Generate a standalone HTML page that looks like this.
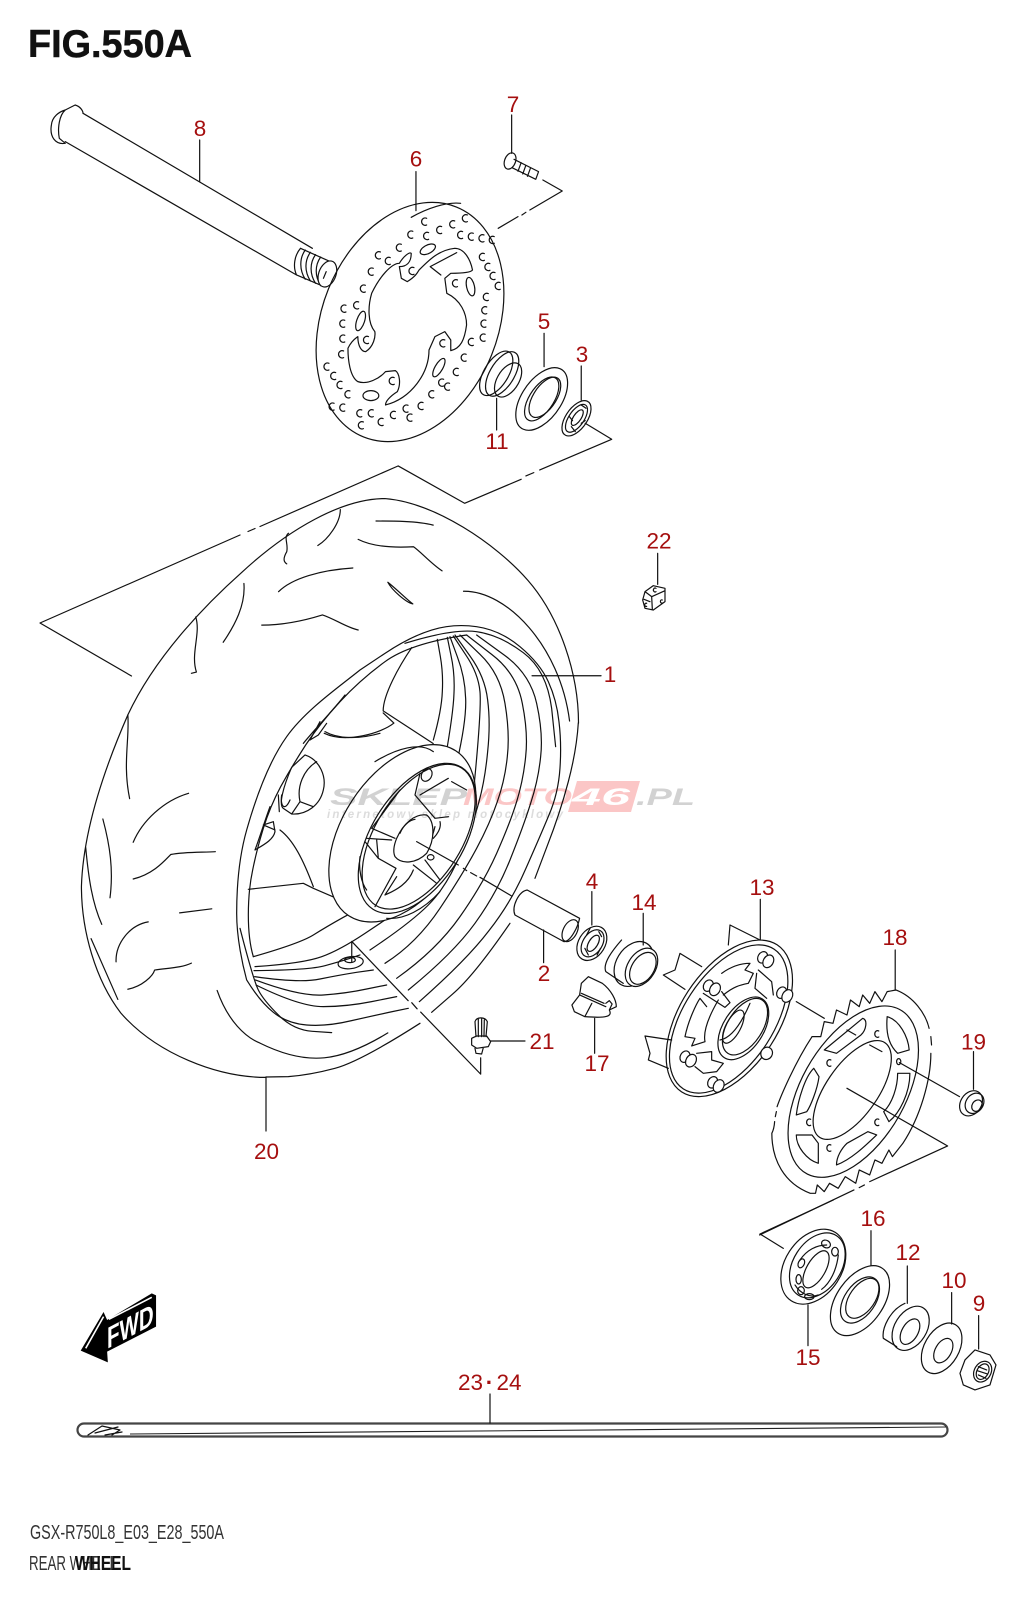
<!DOCTYPE html>
<html><head><meta charset="utf-8"><style>
html,body{margin:0;padding:0;background:#fff;width:1028px;height:1600px;overflow:hidden}
svg{display:block}
path,ellipse,line,rect,polygon{vector-effect:non-scaling-stroke}
.l{fill:none;stroke:#111;stroke-width:1.2;stroke-linecap:round;stroke-linejoin:round}
.l ellipse.w,.l path.w{fill:#fff}
.n{font:22.5px "Liberation Sans",sans-serif;fill:#a50f0f;text-anchor:middle}
</style></head><body>
<svg width="1028" height="1600" viewBox="0 0 1028 1600" xmlns="http://www.w3.org/2000/svg">
<rect width="1028" height="1600" fill="#fff"/>
<text x="28" y="57" font-family="Liberation Sans" font-weight="700" font-size="39" textLength="164" lengthAdjust="spacingAndGlyphs" fill="#111" stroke="#111" stroke-width=".5">FIG.550A</text>

<g class="l">
<path d="M398 466L260 526.5M255 528.5L248 531.5M240 535L40 623L131.5 676"/>
<!-- tyre -->
<g transform="translate(60,470) scale(.3571,.4082)">
<path d="M577 1488C440 1488 270 1430 170 1330C100 1250 60 1130 60 1020C65 880 130 720 190 600C270 450 420 320 510 250C640 145 790 70 910 70C1050 80 1220 180 1310 270C1400 360 1452 500 1452 620"/>
<path d="M785 97C785 130 750 170 722 185M885 125C930 125 1000 125 1045 135M835 170C880 190 950 190 990 188C1010 200 1040 230 1070 247M640 155C625 165 640 180 635 200C625 215 625 225 635 230M612 298C650 265 730 245 820 240M918 275C940 290 975 320 988 328C970 325 930 295 918 275ZM515 278C520 330 490 380 457 422M565 380C620 380 680 370 735 355C770 365 800 385 835 392M380 360C395 400 365 450 382 495L368 498M190 600C195 660 175 720 195 805M205 912C230 860 290 810 360 792M120 855C140 920 150 980 140 1048M205 1002C260 990 290 960 310 942C350 935 400 937 435 935M335 1085L425 1075M157 1205C155 1160 195 1115 247 1107M190 1272C230 1265 260 1240 265 1225C300 1220 340 1220 368 1208M72 925C80 1000 90 1060 117 1113M87 1148L162 1297"/>
<path d="M440 1275C470 1350 520 1390 560 1404C620 1430 680 1445 740 1440C800 1435 860 1410 918 1379M1130 297C1250 295 1400 430 1427 615"/>
<!-- upper spoke -->
<path d="M985 435C950 480 905 550 905 590L1045 670M905 595L935 620C900 645 800 670 740 645"/>
<path d="M817 1155L817 1205M817 1155L975 1300M985 1305L1000 1320M1010 1328L1178 1480L1178 1440"/>
<path d="M1322 504L1515 504"/>
</g>
<path d="M266 1077L266 1131"/>

<!-- wheel rim, barrel, lower tyre -->
<g transform="translate(260,780) scale(.3333)">
<path d="M955 -171Q950 -90 925 5Q900 100 862 197L825 295M750 430Q640 590 577 643L515 697M480 730Q300 845 225 865Q150 885 85 890L18 891"/>
<path d="M-40 600Q0 665 40 697Q80 730 140 735Q200 740 275 722Q350 705 397 695L445 685M478 665Q620 540 687 452Q755 365 797 267Q840 170 867 105Q895 40 900 -35Q905 -110 897 -175Q890 -240 865 -295Q840 -350 780 -400Q720 -450 650 -460Q580 -470 515 -450Q450 -430 375 -380L300 -330C238 -280 137 -210 80 -130C23 -50 -15 62 -40 150C-65 238 -70 325 -70 400C-70 475 -52 556 -40 600"/>
<path d="M-60 445Q-20 600 -5 630Q10 660 55 705Q100 750 157 754L215 758M435 -410Q580 -455 650 -445Q720 -435 790 -382Q860 -330 875 -215L887 -100"/>
<path d="M620 -435Q450 -410 375 -355Q300 -300 240 -235Q180 -170 137 -105Q95 -40 62 20Q30 80 10 145Q-10 210 -22 270Q-35 330 -35 405Q-35 480 -20 530"/>
<path d="M-12 615Q120 680 190 680Q260 680 335 665L410 650M445 630Q580 520 645 430Q710 340 750 240Q790 140 812 70Q835 0 842 -70Q850 -140 830 -230Q810 -320 730 -377L650 -435"/>
<path d="M-14 600Q120 650 190 645Q260 640 320 627L380 615M410 595Q530 510 600 410Q670 310 710 220Q750 130 770 65Q790 0 797 -70Q805 -140 787 -230Q770 -320 695 -377L620 -435"/>
<path d="M-16 590Q120 610 180 597Q240 585 290 577L340 570M375 550Q470 490 540 385Q610 280 650 205Q690 130 712 65Q735 0 742 -70Q750 -140 735 -230Q720 -320 660 -377L600 -435"/>
<path d="M-18 572Q150 570 195 557Q240 545 270 535L300 525M330 510Q450 430 505 375Q560 320 600 225Q640 130 657 65Q675 0 683 -85Q692 -170 683 -240Q675 -310 630 -372L585 -435"/>
<path d="M-15 560Q130 550 185 530Q240 510 315 460L390 410"/>
<path d="M640 40Q665 -210 660 -265Q655 -320 617 -376L580 -432M590 -50Q620 -180 617 -245Q615 -310 592 -370L570 -430M555 -60Q580 -200 582 -260Q585 -320 573 -374L562 -428M520 -120Q545 -210 547 -265Q550 -320 541 -371L532 -422"/>
<path d="M-20 530Q120 490 160 465Q200 440 250 412L300 385"/>
<ellipse cx="272" cy="548" rx="38" ry="18" transform="rotate(-8 272 548)"/>
<ellipse cx="270" cy="540" rx="16" ry="8"/>
<!-- valve 21 -->
<path d="M648 770L645 725C650 710 675 710 682 725L678 770M655 718L655 770M665 716L665 770M673 720L672 770M635 775L650 768L680 768L692 785L685 800L650 805L635 795ZM645 805L648 820L665 822L670 803M692 783L795 783"/>
</g>
<!-- spoke and hole -->
<g transform="translate(220,680) scale(.3333)">
<path d="M215 262L255 225C300 240 320 290 310 330C300 375 260 405 215 402L190 385C175 375 190 320 215 262M290 245C250 270 230 320 240 365L215 402M240 365L280 380"/>
<path d="M180 450C220 480 250 540 280 620M85 628L250 610L280 625L415 683M105 510C130 495 160 480 165 455L160 425L130 435L165 450M150 380C135 420 120 470 105 510M175 345L178 395M185 345C180 380 195 395 210 360"/>
<path d="M315 155C350 175 410 180 480 160M300 125L270 180L295 165L320 130M375 45C340 90 300 130 250 190"/>
</g>
<!-- hub -->
<g transform="translate(320,740) scale(.3333)">
<ellipse class="w" cx="247" cy="280" rx="180" ry="295" transform="rotate(33 247 280)"/>
<path d="M165 65C230 25 300 5 340 35" />
<ellipse class="w" cx="292" cy="295" rx="138" ry="251" transform="rotate(32 292 295)"/>
<ellipse cx="296" cy="290" rx="130" ry="243" transform="rotate(32 296 290)"/>
<path d="M300 100L285 165L345 235M385 115L300 165M240 150L155 265L225 295M140 295L215 300M135 305L175 355L228 385M175 355L170 300M228 385L165 500M120 350C115 390 125 430 140 450M280 375L350 430M315 360L360 420M395 125L440 150M345 235L385 230M230 410L195 465C230 450 265 430 280 390M345 260C340 280 335 295 330 305M360 245C365 265 350 285 340 295M200 535C250 540 310 510 360 455"/>
<ellipse cx="320" cy="105" rx="15" ry="20" transform="rotate(30 320 105)"/>
<ellipse cx="332" cy="352" rx="10" ry="8"/>
<path class="w" d="M230 295C250 250 285 220 320 225C345 245 345 300 320 340C290 370 245 375 225 350C218 335 222 315 230 295Z"/>
<path d="M240 280C250 255 270 240 285 238"/>
<path d="M290 305L415 375M430 385L440 392M452 398L470 408M480 412L575 468"/>
</g>
</g>

<!-- top parts -->
<g class="l" transform="scale(.3954,.3333)">
<path d="M165 330L190 315C205 320 210 335 210 340M165 330C150 345 145 385 150 415L165 430C140 435 125 410 130 375C132 350 150 335 165 330Z"/>
<path d="M210 340L790 745M165 425L750 825M760 745C745 765 740 800 750 825M760 745L845 790M750 825L820 860"/>
<path d="M772 750C757 775 757 810 772 838M785 757C770 782 770 815 785 843M798 764C783 789 783 822 798 850M811 771C796 796 796 829 811 857"/>
<ellipse class="w" cx="828" cy="822" rx="22" ry="40" transform="rotate(15 828 822)" style="fill:#fff"/>
<path d="M825 815L818 835"/>
<path d="M505 420L505 545M1052 515L1052 632M1294 345L1294 460M1373 540L1422 573L1340 630M1330 637L1320 645M1310 650L1260 685"/>
<path d="M1040 652C1080 625 1130 605 1165 610"/>
<path d="M1155 758L1088 800L1115 825M1060 810C1085 780 1110 750 1150 745C1175 745 1190 780 1195 810C1190 820 1150 820 1140 820L1125 835L1130 880C1165 900 1180 940 1180 975C1175 1020 1165 1045 1140 1052L1140 1020L1125 995L1100 1010L1085 1050C1085 1120 1040 1195 975 1215C975 1205 985 1190 1005 1175C1015 1150 1010 1120 1000 1112L975 1115C960 1135 930 1155 905 1145C885 1130 880 1080 880 1045C890 1020 900 1015 905 1010C905 1040 915 1055 925 1055C945 1040 950 1010 948 995C930 970 930 920 940 880C960 830 990 790 1010 790C1020 770 1035 755 1040 760C1040 785 1030 800 1010 800L1015 835L1030 845C1050 830 1055 820 1060 810"/>
<ellipse cx="1082" cy="748" rx="22" ry="12" transform="rotate(-35 1082 748)"/>
<ellipse cx="1190" cy="860" rx="10" ry="28" transform="rotate(-10 1190 860)"/>
<ellipse cx="912" cy="963" rx="10" ry="30" transform="rotate(15 912 963)"/>
<ellipse cx="1110" cy="1103" rx="10" ry="30" transform="rotate(25 1110 1103)"/>
<ellipse cx="938" cy="1187" rx="20" ry="15"/>
<path d="M1079 655a9 11 0 1 0 0 20M1182 645a9 11 0 1 0 0 20M1150 663a9 11 0 1 0 0 20M1117 680a9 11 0 1 0 0 20M1084 698a9 11 0 1 0 0 20M1044 694a9 11 0 1 0 0 20M1170 695a9 11 0 1 0 0 20M1197 700a9 11 0 1 0 0 20M1224 705a9 11 0 1 0 0 20M1250 710a9 11 0 1 0 0 20M1015 733a9 11 0 1 0 0 20M1225 761a9 11 0 1 0 0 20M1239 791a9 11 0 1 0 0 20M1252 818a9 11 0 1 0 0 20M1265 848a9 11 0 1 0 0 20M962 756a9 11 0 1 0 0 20M987 773a9 11 0 1 0 0 20M944 805a9 11 0 1 0 0 20M924 856a9 11 0 1 0 0 20M1235 881a9 11 0 1 0 0 20M1231 921a9 11 0 1 0 0 20M1229 961a9 11 0 1 0 0 20M1227 1003a9 11 0 1 0 0 20M875 916a9 11 0 1 0 0 20M907 906a9 11 0 1 0 0 20M872 961a9 11 0 1 0 0 20M872 1006a9 11 0 1 0 0 20M869 1053a9 11 0 1 0 0 20M1197 1016a9 11 0 1 0 0 20M1179 1063a9 11 0 1 0 0 20M1159 1106a9 11 0 1 0 0 20M1137 1150a9 11 0 1 0 0 20M1122 1138a9 11 0 1 0 0 20M1097 1173a9 11 0 1 0 0 20M1070 1208a9 11 0 1 0 0 20M1032 1216a9 11 0 1 0 0 20M1042 1243a9 11 0 1 0 0 20M1000 1235a9 11 0 1 0 0 20M969 1256a9 11 0 1 0 0 20M944 1230a9 11 0 1 0 0 20M915 1230a9 11 0 1 0 0 20M919 1266a9 11 0 1 0 0 20M872 1213a9 11 0 1 0 0 20M845 1210a9 11 0 1 0 0 20M832 1090a9 11 0 1 0 0 20M849 1118a9 11 0 1 0 0 20M865 1145a9 11 0 1 0 0 20M885 1173a9 11 0 1 0 0 20M1047 803a9 11 0 1 0 0 20M1157 840a9 11 0 1 0 0 20M932 1010a9 11 0 1 0 0 20M1125 1020a9 11 0 1 0 0 20M997 1133a9 11 0 1 0 0 20"/>
<!-- bolt 7 -->
<ellipse cx="1290" cy="483" rx="14" ry="25" transform="rotate(15 1290 483)"/>
<path d="M1300 478L1362 515L1355 538L1295 503M1318 488L1310 514M1330 496L1322 522M1342 503L1334 529"/>
<!-- 11 -->
<ellipse cx="1255" cy="1120" rx="32" ry="72" transform="rotate(25 1255 1120)"/>
<ellipse cx="1270" cy="1122" rx="32" ry="72" transform="rotate(25 1270 1122)"/>
<ellipse cx="1285" cy="1140" rx="28" ry="55" transform="rotate(25 1285 1140)"/>
<path d="M1256 1195L1256 1290"/>
<!-- 5 -->
<ellipse cx="1370" cy="1197" rx="52" ry="102" transform="rotate(27 1370 1197)"/>
<ellipse cx="1370" cy="1197" rx="32" ry="72" transform="rotate(27 1370 1197)"/>
<ellipse cx="1378" cy="1192" rx="30" ry="66" transform="rotate(27 1378 1192)"/>
<path d="M1376 1000L1376 1100"/>
<!-- 3 -->
<ellipse cx="1458" cy="1255" rx="28" ry="58" transform="rotate(28 1458 1255)"/>
<ellipse cx="1458" cy="1255" rx="20" ry="46" transform="rotate(28 1458 1255)"/>
<ellipse cx="1460" cy="1253" rx="10" ry="26" transform="rotate(28 1460 1253)"/>
<path d="M1445 1280L1455 1295M1470 1215L1482 1225M1440 1250L1448 1262M1470 1270L1480 1262"/>
<path d="M1470 1098L1470 1200M1480 1270L1547 1318L1365 1410M1350 1418L1330 1428M1318 1438L1175 1510L1007 1398"/>
</g>
<ellipse class="l" cx="410" cy="322" rx="88" ry="124" transform="rotate(22 410 322)"/>

<!-- valve 22 -->
<g class="l" transform="translate(620,520) scale(.3333)">
<path d="M113 100L113 193M75 215L100 197L135 205L135 245L100 270L75 265L68 240L75 215ZM75 215L95 230L135 212M95 230L97 268M72 238L90 245"/>
<path d="M108 205a5 6 0 1 0 0 10M80 250a4 5 0 1 0 0 9M127 240a4 5 0 1 0 0 9"/>
</g>

<!-- lower parts -->
<g class="l" transform="translate(480,840) scale(.3495,.3333)">
<path class="w" d="M135 150L285 235C280 260 260 305 240 305L100 225C90 200 110 155 135 150Z" style="fill:#fff"/>
<ellipse cx="258" cy="272" rx="20" ry="35" transform="rotate(25 258 272)"/>
<path d="M182 270L182 368M320 155L320 255M467 220L467 315M328 535L328 640M802 178L802 298"/>
<ellipse cx="320" cy="310" rx="38" ry="55" transform="rotate(30 320 310)"/>
<ellipse cx="322" cy="310" rx="28" ry="44" transform="rotate(30 322 310)"/>
<ellipse cx="324" cy="310" rx="13" ry="27" transform="rotate(30 324 310)"/>
<path d="M305 285L315 265M340 275L348 290M300 325L310 345M335 345L345 325"/>
<path d="M405 300C380 330 350 370 360 395L410 430"/>
<ellipse cx="440" cy="372" rx="50" ry="72" transform="rotate(30 440 372)"/>
<ellipse cx="462" cy="382" rx="40" ry="62" transform="rotate(30 462 382)" style="fill:#fff"/>
<ellipse cx="466" cy="385" rx="32" ry="52" transform="rotate(30 466 385)"/>
<path d="M310 410L350 430C375 450 390 480 390 500L370 510C380 530 360 535 300 530L270 515L263 495L285 465L290 430ZM285 465L360 500M300 530L320 490M290 460L355 490M360 490L370 482L378 492L370 510"/>
<path d="M905 485L985 535"/>
<!-- sprocket -->
<path d="M1190 450L1165 455L1150 485L1130 455L1115 490L1095 465L1085 500L1060 480L1050 525L1020 510L1010 550L985 545L975 590L950 590M950 590C900 670 860 770 850 800M848 815L845 830M843 845C842 860 840 870 835 880C835 960 870 1030 945 1060L960 1060L965 1035L985 1055L1000 1030L1025 1045L1045 1010L1075 1030L1085 990L1115 1005L1130 960L1150 970L1170 930L1180 950L1210 910C1260 830 1290 720 1290 640M1292 615L1290 590M1285 565C1275 520 1240 470 1190 450"/>
<ellipse cx="1068" cy="755" rx="150" ry="280" transform="rotate(28 1068 755)"/>
<ellipse cx="1065" cy="750" rx="75" ry="170" transform="rotate(33 1065 750)"/>
<path d="M985 630L1095 535C1110 540 1105 570 1090 585L1020 640ZM1165 530C1200 540 1225 590 1228 630L1195 640C1175 620 1160 590 1165 530ZM1195 700L1230 700C1230 760 1200 820 1170 845L1155 815C1180 790 1195 740 1195 700ZM1135 885C1100 920 1060 960 1020 975C1020 950 1035 925 1050 910L1110 875ZM905 885L950 885L968 910L968 970C935 960 905 920 905 885ZM905 825C910 780 930 710 955 685L970 710C965 750 945 800 935 815Z"/>
<path d="M1141 573a8 10 0 1 0 0 18M1004 660a8 10 0 1 0 0 18M946 838a8 10 0 1 0 0 18M1141 838a8 10 0 1 0 0 18M1004 915a8 10 0 1 0 0 18"/>
<ellipse cx="1198" cy="665" rx="6" ry="9"/>
<path d="M1050 570L1075 585M1115 615L1150 635M1050 745L1338 918L1115 1025M1100 1035L1085 1043M1070 1050L800 1185M1200 668L1372 770M1412 635L1412 748M1188 330L1188 450"/>
<ellipse cx="1405" cy="790" rx="30" ry="40" transform="rotate(30 1405 790)"/>
<ellipse cx="1415" cy="790" rx="25" ry="32" transform="rotate(30 1415 790)"/>
<ellipse cx="1422" cy="797" rx="14" ry="18" transform="rotate(30 1422 797)"/>
</g>

<!-- hub 13 -->
<g class="l" transform="translate(640,920) scale(.3333)">
<path d="M265 75L270 15L360 60M185 140L120 100L105 150L70 165L135 208M95 360L15 348L30 400L25 420L85 445"/>
<ellipse cx="268" cy="295" rx="148" ry="263" transform="rotate(33 268 295)"/>
<ellipse cx="266" cy="297" rx="136" ry="250" transform="rotate(33 266 297)"/>
<ellipse cx="310" cy="325" rx="60" ry="105" transform="rotate(33 310 325)"/>
<ellipse cx="315" cy="320" rx="52" ry="95" transform="rotate(33 315 320)"/>
<ellipse cx="280" cy="320" rx="22" ry="55" transform="rotate(28 280 320)"/>
<path d="M245 160C280 135 310 130 330 130L315 150L340 160L325 190C300 195 280 200 250 225M135 350C145 300 170 250 180 235L200 260M135 350L165 355L155 378L195 365C190 340 200 300 235 240M170 400L215 395L215 420L250 430L230 455L190 460L165 440M245 215L270 248L255 262L190 220M350 160L345 205L380 235M355 150L395 185L400 225M240 360C270 355 300 320 330 250"/>
<g style="fill:#fff">
<ellipse cx="368" cy="112" rx="14" ry="18" transform="rotate(30 368 112)"/><ellipse cx="385" cy="124" rx="15" ry="20" transform="rotate(30 385 124)"/>
<ellipse cx="425" cy="218" rx="14" ry="18" transform="rotate(30 425 218)"/><ellipse cx="442" cy="228" rx="15" ry="20" transform="rotate(30 442 228)"/>
<ellipse cx="380" cy="400" rx="17" ry="19" transform="rotate(30 380 400)"/>
<ellipse cx="205" cy="197" rx="14" ry="18" transform="rotate(30 205 197)"/><ellipse cx="225" cy="208" rx="15" ry="20" transform="rotate(30 225 208)"/>
<ellipse cx="135" cy="410" rx="14" ry="18" transform="rotate(30 135 410)"/><ellipse cx="153" cy="422" rx="15" ry="20" transform="rotate(30 153 422)"/>
<ellipse cx="218" cy="487" rx="14" ry="18" transform="rotate(30 218 487)"/><ellipse cx="236" cy="498" rx="15" ry="20" transform="rotate(30 236 498)"/>
</g>
</g>

<g class="l" transform="translate(700,1200) scale(.3333)">
<path d="M180 102L250 145M180 102L400 0"/>
<ellipse cx="340" cy="200" rx="85" ry="122" transform="rotate(33 340 200)"/>
<ellipse cx="352" cy="196" rx="72" ry="106" transform="rotate(33 352 196)"/>
<ellipse cx="348" cy="208" rx="28" ry="62" transform="rotate(30 348 208)"/>
<path d="M300 180C320 150 350 135 380 135M285 255C300 280 330 295 355 285M415 165C410 210 390 250 365 268"/>
<ellipse cx="378" cy="132" rx="14" ry="11" transform="rotate(30 378 132)"/>
<ellipse cx="405" cy="155" rx="10" ry="13"/>
<ellipse cx="304" cy="190" rx="9" ry="14" transform="rotate(25 304 190)"/>
<ellipse cx="296" cy="238" rx="8" ry="14"/>
<ellipse cx="303" cy="272" rx="10" ry="12"/>
<ellipse cx="328" cy="290" rx="14" ry="9"/>
<path d="M324 315L324 437M513 92L513 195M622 198L622 310M755 278L755 372M836 347L836 447"/>
<ellipse cx="480" cy="302" rx="70" ry="118" transform="rotate(35 480 302)"/>
<ellipse cx="480" cy="300" rx="46" ry="78" transform="rotate(35 480 300)"/>
<ellipse cx="487" cy="295" rx="38" ry="68" transform="rotate(35 487 295)"/>
<path d="M615 310C570 330 545 385 550 415L590 440"/>
<ellipse cx="632" cy="385" rx="48" ry="72" transform="rotate(32 632 385)"/>
<ellipse cx="630" cy="395" rx="24" ry="42" transform="rotate(30 630 395)"/>
<ellipse cx="725" cy="445" rx="52" ry="82" transform="rotate(30 725 445)"/>
<ellipse cx="730" cy="452" rx="24" ry="40" transform="rotate(30 730 452)"/>
<path d="M825 450L870 465L888 495L870 555L825 570L790 555L780 520L795 480Z"/>
<ellipse cx="848" cy="515" rx="25" ry="33" transform="rotate(30 848 515)"/>
<ellipse cx="848" cy="515" rx="17" ry="25" transform="rotate(30 848 515)"/>
<path d="M835 500L860 510M832 512L862 522M835 525L858 535"/>
</g>

<!-- FWD -->
<g transform="translate(0,1280) scale(.3571,.3333)">
<polygon points="425,40 437,46 437,140 300,215 302,247 226,212 290,96 300,120" fill="#000"/>
<path d="M290 110L240 205M305 118L425 52" fill="none" stroke="#fff" stroke-width="1.6"/>
</g>
<text transform="matrix(.88,-.47,0,1,107,1349)" font-family="Liberation Sans" font-weight="700" font-size="30" fill="#fff" textLength="53" lengthAdjust="spacingAndGlyphs">FWD</text>

<!-- tube -->
<rect x="77.5" y="1423.500" width="870" height="13" rx="6.5" fill="none" stroke="#444" stroke-width="2.2"/>
<path d="M130 1434C300 1433 500 1431 946 1427" fill="none" stroke="#222" stroke-width="1.1"/>
<path d="M490 1394L490 1423" class="l"/>
<path d="M88 1435L102 1426L120 1430L112 1435M95 1433L118 1427M105 1435L122 1432" class="l"/>

<!-- labels -->
<g class="n">
<text x="200" y="136">8</text><text x="416" y="166.500">6</text><text x="513" y="112">7</text>
<text x="544" y="329">5</text><text x="582" y="362">3</text><text x="497" y="449">11</text>
<text x="659" y="548.500">22</text><text x="610" y="682">1</text><text x="592" y="889">4</text>
<text x="644" y="910">14</text><text x="762" y="895">13</text><text x="895" y="945">18</text>
<text x="973.500" y="1049.500">19</text><text x="544" y="981">2</text><text x="542" y="1049">21</text>
<text x="597" y="1071">17</text><text x="266.500" y="1159">20</text><text x="873" y="1226">16</text>
<text x="908" y="1260">12</text><text x="954" y="1288">10</text><text x="979" y="1311">9</text>
<text x="808" y="1365">15</text><text x="470.500" y="1390">23</text><text x="509" y="1390">24</text>
<text x="489.500" y="1390" font-weight="700">·</text>
</g>

<!-- watermark -->
<g style="mix-blend-mode:multiply">
<polygon points="577,781 640,781 631,812 568,812" fill="#fbc6c6"/>
<g font-family="Liberation Sans" font-weight="700" font-style="italic" font-size="24">
<text x="330" y="805" textLength="137" lengthAdjust="spacingAndGlyphs" fill="#d2d2d2">SKLEP</text>
<text x="463" y="805" textLength="109" lengthAdjust="spacingAndGlyphs" fill="#fbc6c6">MOTO</text>
<text x="636" y="805" textLength="59" lengthAdjust="spacingAndGlyphs" fill="#d2d2d2">.PL</text>
</g>
<text x="327" y="818" font-family="Liberation Sans" font-weight="700" font-style="italic" font-size="11.500" textLength="236" fill="#dcdcdc">internetowy sklep motocyklowy</text>
</g>
<text x="572" y="805" font-family="Liberation Sans" font-weight="700" font-style="italic" font-size="24" textLength="58" lengthAdjust="spacingAndGlyphs" fill="#fff">46</text>

<!-- footer -->
<text x="30" y="1539" font-family="Liberation Sans" font-size="20" textLength="194" lengthAdjust="spacingAndGlyphs" fill="#333">GSX-R750L8_E03_E28_550A</text>
<text x="29" y="1570" font-family="Liberation Sans" font-size="20" textLength="88" lengthAdjust="spacingAndGlyphs" fill="#333">REAR WHEEL</text>
<text x="75" y="1570" font-family="Liberation Sans" font-weight="700" font-size="20" textLength="56" lengthAdjust="spacingAndGlyphs" fill="#111">WHEEL</text>
</svg>
</body></html>
